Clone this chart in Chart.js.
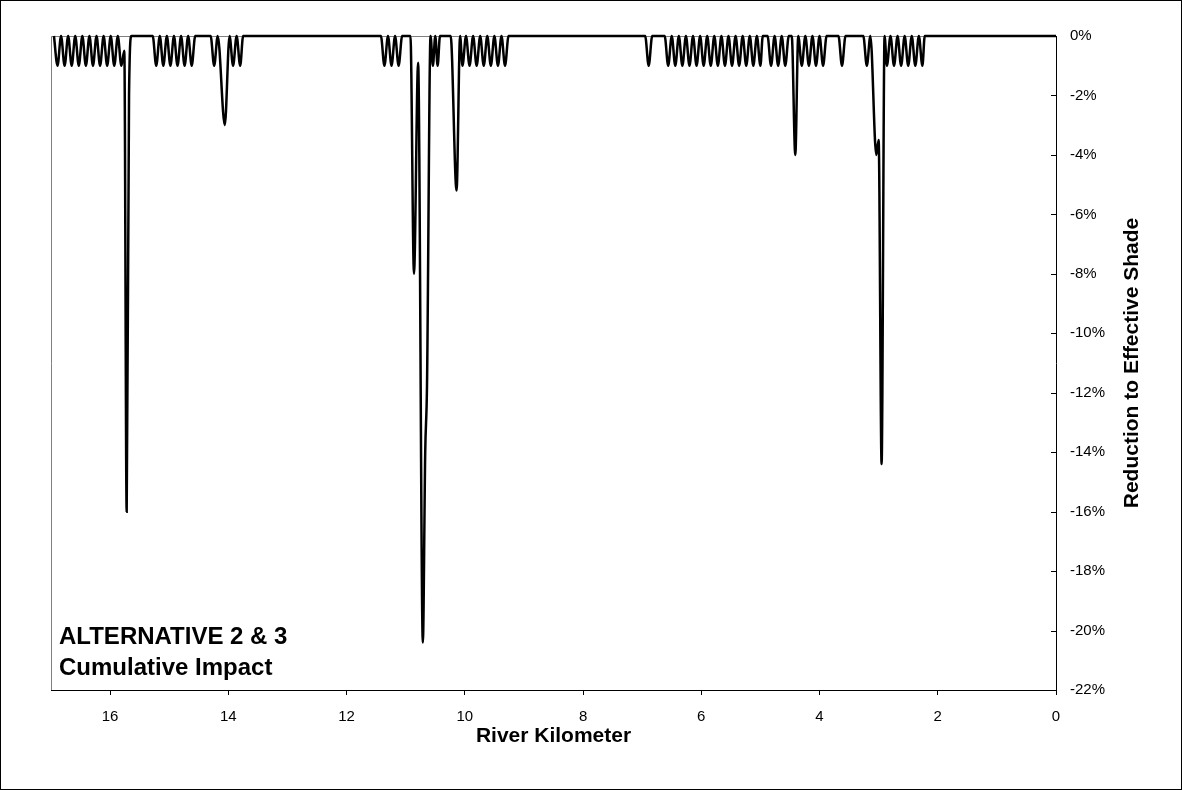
<!DOCTYPE html>
<html>
<head>
<meta charset="utf-8">
<script src="https://cdn.jsdelivr.net/npm/chart.js@4/dist/chart.umd.min.js"></script>
<style>
html, body { margin: 0; padding: 0; background: #fff; }
#wrap { width: 1182px; height: 790px; }
</style>
</head>
<body>
<div id="wrap"><canvas id="chart" width="1182" height="790"></canvas></div>
<script>
// river km (descending, upstream -> downstream) and reduction to effective shade (%)
var riverKm = [
    16.95, 16.89, 16.83, 16.77, 16.71, 16.65, 16.59, 16.53, 16.47, 16.41, 16.35, 16.29, 16.23, 16.17, 16.11, 16.05, 15.99, 15.93, 15.87, 15.81,
    15.76, 15.72, 15.68, 15.64,
    15.28, 15.22, 15.16, 15.10, 15.04, 14.98, 14.92, 14.86, 14.80, 14.74, 14.68, 14.62, 14.56,
    14.30, 14.24, 14.18, 14.06, 13.98, 13.92, 13.86, 13.80, 13.75,
    11.42, 11.36, 11.30, 11.24, 11.18, 11.12, 11.06,
    10.92, 10.86, 10.79, 10.71, 10.67, 10.64, 10.58, 10.54, 10.50, 10.46, 10.42,
    10.24, 10.14, 10.08, 10.04, 9.98, 9.92, 9.86, 9.80, 9.74, 9.68, 9.62, 9.56, 9.50, 9.44, 9.38, 9.32, 9.26,
    6.95, 6.89, 6.83,
    6.62, 6.56, 6.50, 6.44, 6.38, 6.32, 6.26, 6.20, 6.14, 6.08, 6.02, 5.96, 5.90, 5.84, 5.78, 5.72, 5.66, 5.60,
    5.54, 5.48, 5.42, 5.36, 5.30, 5.24, 5.18, 5.12, 5.06, 5.00, 4.96,
    4.88, 4.82, 4.76, 4.70, 4.64, 4.58, 4.52, 4.47, 4.41, 4.36, 4.30, 4.24, 4.18, 4.12, 4.06, 4.00, 3.94, 3.88,
    3.68, 3.62, 3.56,
    3.26, 3.20, 3.14, 3.04, 3.00, 2.95, 2.90,
    2.86, 2.80, 2.74, 2.68, 2.62, 2.56, 2.50, 2.44, 2.38, 2.32, 2.26, 2.22,
    0.00
];
var shadeLoss = [
    0, -1, 0, -1, 0, -1, 0, -1, 0, -1, 0, -1, 0, -1, 0, -1, 0, -1, 0, -1,
    -0.5, -16.0, -2.0, 0,
    0, -1, 0, -1, 0, -1, 0, -1, 0, -1, 0, -1, 0,
    0, -1, 0, -3.0, 0, -1, 0, -1, 0,
    0, -1, 0, -1, 0, -1, 0,
    0, -8.0, -0.9, -20.4, -14.0, -11.8, 0, -1, 0, -1, 0,
    0, -5.2, 0, -1, 0, -1, 0, -1, 0, -1, 0, -1, 0, -1, 0, -1, 0,
    0, -1, 0,
    0, -1, 0, -1, 0, -1, 0, -1, 0, -1, 0, -1, 0, -1, 0, -1, 0, -1,
    0, -1, 0, -1, 0, -1, 0, -1, 0, -1, 0,
    0, -1, 0, -1, 0, -1, 0, 0, -4.0, 0, -1, 0, -1, 0, -1, 0, -1, 0,
    0, -1, 0,
    0, -1, 0, -4.0, -3.5, -14.4, 0,
    -1, 0, -1, 0, -1, 0, -1, 0, -1, 0, -1, 0,
    0
];
var kmTicks = [16, 14, 12, 10, 8, 6, 4, 2, 0];
var shadeTicks = [0, -2, -4, -6, -8, -10, -12, -14, -16, -18, -20, -22];

var points = riverKm.map(function (km, i) { return { x: km, y: shadeLoss[i] }; });

var labelFont = "'Liberation Sans', Arial, sans-serif";

var extrasPlugin = {
    id: 'extras',
    beforeDatasetsDraw: function (chart) {
        var a = chart.chartArea, ctx = chart.ctx;
        ctx.save();
        ctx.strokeStyle = '#808080';
        ctx.lineWidth = 1;
        ctx.beginPath();
        ctx.moveTo(a.left + 0.5, a.bottom);
        ctx.lineTo(a.left + 0.5, a.top + 0.5);
        ctx.lineTo(a.right, a.top + 0.5);
        ctx.stroke();
        ctx.restore();
    },
    afterDraw: function (chart) {
        var a = chart.chartArea, ctx = chart.ctx, ys = chart.scales.y;
        ctx.save();
        // inward tick marks on the right axis
        ctx.strokeStyle = '#000';
        ctx.lineWidth = 1;
        ys.ticks.forEach(function (t) {
            var py = Math.round(ys.getPixelForValue(t.value)) + 0.5;
            ctx.beginPath();
            ctx.moveTo(a.right - 5, py);
            ctx.lineTo(a.right, py);
            ctx.stroke();
        });
        // axis titles
        ctx.fillStyle = '#000';
        ctx.font = 'bold 21px ' + labelFont;
        ctx.textAlign = 'center';
        ctx.textBaseline = 'middle';
        ctx.fillText('River Kilometer', (a.left + a.right) / 2, 736);
        ctx.textBaseline = 'alphabetic';
        ctx.translate(1138, (a.top + a.bottom) / 2);
        ctx.rotate(-Math.PI / 2);
        ctx.fillText('Reduction to Effective Shade', 0, 0);
        ctx.setTransform(1, 0, 0, 1, 0, 0);
        // scenario note
        ctx.font = 'bold 24px ' + labelFont;
        ctx.textAlign = 'left';
        ctx.fillText('ALTERNATIVE 2 & 3', a.left + 8, 644);
        ctx.fillText('Cumulative Impact', a.left + 8, 675);
        // outer frame
        ctx.strokeRect(0.5, 0.5, chart.width - 1, chart.height - 1);
        ctx.restore();
    }
};

var ctx = document.getElementById('chart').getContext('2d');
var chart = new Chart(ctx, {
    type: 'scatter',
    data: {
        datasets: [{
            data: points,
            showLine: true,
            borderColor: '#000',
            borderWidth: 2.5,
            pointRadius: 0,
            cubicInterpolationMode: 'monotone',
            tension: 0.4,
            clip: 2
        }]
    },
    options: {
        responsive: false,
        animation: false,
        layout: { padding: { top: 36, left: 51, right: 0, bottom: 0 } },
        plugins: { legend: { display: false }, tooltip: { enabled: false } },
        scales: {
            x: {
                type: 'linear',
                reverse: true,
                min: 0,
                max: 17,
                afterBuildTicks: function (scale) {
                    scale.ticks = kmTicks.map(function (v) { return { value: v }; });
                },
                afterFit: function (scale) { scale.height = 100; },
                grid: { drawOnChartArea: false, drawTicks: true, tickLength: 5, color: '#000' },
                border: { color: '#000', width: 1 },
                ticks: { color: '#000', font: { family: labelFont, size: 15 }, padding: 13, maxRotation: 0 }
            },
            y: {
                type: 'linear',
                position: 'right',
                min: -22,
                max: 0,
                afterBuildTicks: function (scale) {
                    scale.ticks = shadeTicks.map(function (v) { return { value: v }; });
                },
                afterFit: function (scale) { scale.width = 126; },
                grid: { display: false },
                border: { display: true, color: '#000', width: 1 },
                ticks: {
                    color: '#000',
                    font: { family: labelFont, size: 15 },
                    padding: 6,
                    callback: function (v) { return v + '%'; }
                }
            }
        }
    },
    plugins: [extrasPlugin]
});
</script>
</body>
</html>
